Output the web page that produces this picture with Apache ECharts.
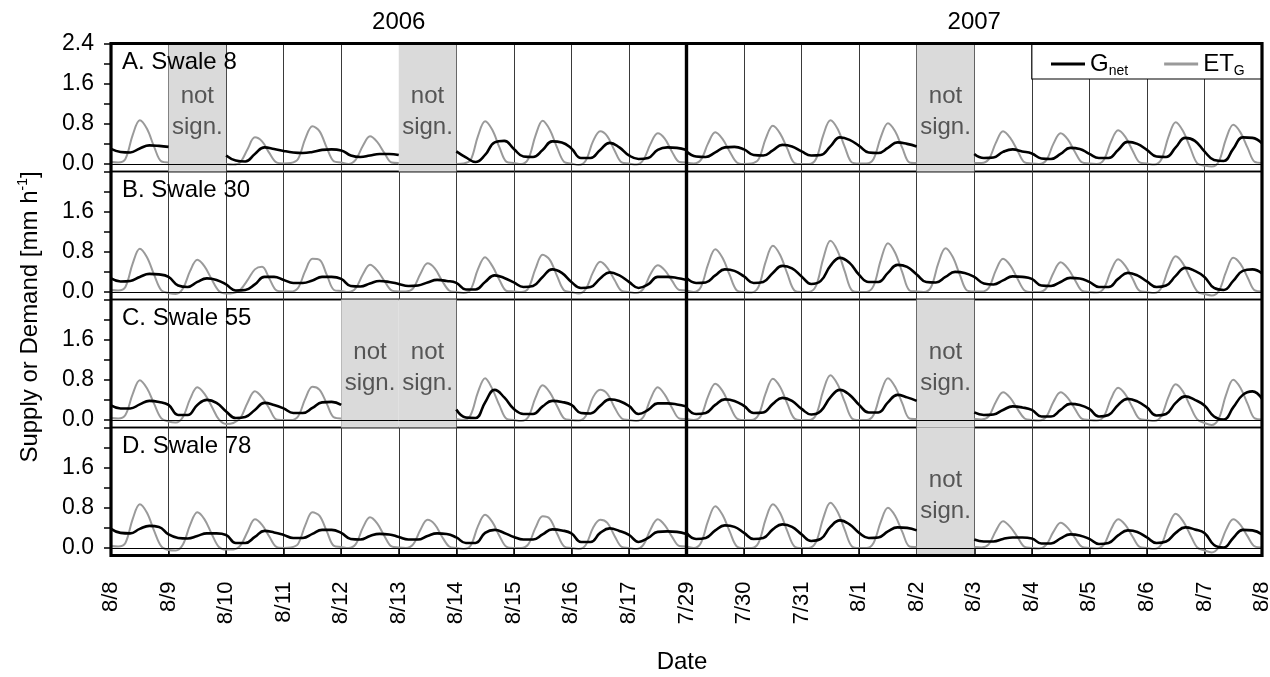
<!DOCTYPE html>
<html>
<head>
<meta charset="utf-8">
<script src="https://cdn.jsdelivr.net/npm/echarts@6/dist/echarts.min.js"></script>
<style>
  html, body { margin: 0; padding: 0; background: #ffffff; }
  #chart { width: 1270px; height: 677px; }
</style>
</head>
<body>
<div id="chart"></div>
<script>
// Hourly supply (G_net) and demand (ET_G) at four swales, summers 2006 and 2007.
// ET_G sampled every 3 h, G_net every 4 h; null marks days without a significant signal.
const _ = null;

const dayLabels2006 = ['8/8', '8/9', '8/10', '8/11', '8/12', '8/13', '8/14', '8/15', '8/16', '8/17', ''];
const dayLabels2007 = ['7/29', '7/30', '7/31', '8/1', '8/2', '8/3', '8/4', '8/5', '8/6', '8/7', '8/8'];
const yearLabels = ['2006', '2007'];
const panelLabels = ['A. Swale 8', 'B. Swale 30', 'C. Swale 55', 'D. Swale 78'];
const yTickValues = [0, 0.4, 0.8, 1.2, 1.6, 2.0, 2.4];

// day indices (0-based) flagged "not sign." per panel: [2006, 2007]
const gapsA = [[1, 5], [4]];
const gapsB = [[], []];
const gapsC = [[4, 5], [4]];
const gapsD = [[], [4]];

// ---- ET_G, mm/h, 0,3,6,...,21 h each day, plus final midnight ----
const etA06 = [
  0.04, 0.03, 0.10, 0.57, 0.87, 0.70, 0.34, 0.05,
  0.03, _, _, _, _, _, _, _,
  0.00, -0.01, 0.04, 0.30, 0.53, 0.45, 0.22, 0.03,
  0.01, 0.02, 0.10, 0.50, 0.75, 0.65, 0.32, 0.05,
  0.03, 0.00, 0.08, 0.36, 0.55, 0.44, 0.22, 0.03,
  0.02, _, _, _, _, _, _, _,
  0.00, 0.01, 0.08, 0.55, 0.85, 0.68, 0.33, 0.04,
  0.02, 0.00, 0.10, 0.56, 0.86, 0.68, 0.33, 0.04,
  0.01, -0.02, 0.07, 0.45, 0.65, 0.55, 0.27, 0.03,
  0.01, -0.01, 0.08, 0.40, 0.61, 0.50, 0.24, 0.04,
  0.03
];
const etA07 = [
  0.03, 0.01, 0.08, 0.41, 0.63, 0.50, 0.25, 0.03,
  0.00, 0.01, 0.09, 0.50, 0.76, 0.61, 0.31, 0.02,
  0.00, 0.00, 0.10, 0.57, 0.87, 0.70, 0.34, 0.03,
  0.01, 0.01, 0.10, 0.53, 0.81, 0.65, 0.32, 0.03,
  0.02, _, _, _, _, _, _, _,
  0.02, 0.02, 0.09, 0.42, 0.65, 0.52, 0.27, 0.03,
  0.01, 0.00, 0.07, 0.40, 0.61, 0.49, 0.24, 0.03,
  0.01, 0.00, 0.08, 0.44, 0.67, 0.54, 0.27, 0.03,
  0.01, -0.01, 0.09, 0.54, 0.83, 0.66, 0.33, 0.01,
  -0.03, -0.05, 0.05, 0.50, 0.78, 0.63, 0.32, 0.04,
  0.02
];
const etB06 = [
  0.04, 0.03, 0.10, 0.56, 0.86, 0.69, 0.34, 0.03,
  -0.02, -0.04, 0.07, 0.42, 0.64, 0.51, 0.25, 0.02,
  -0.03, -0.02, 0.05, 0.24, 0.45, 0.50, 0.27, 0.03,
  0.01, 0.01, 0.08, 0.42, 0.66, 0.64, 0.34, 0.04,
  0.02, 0.00, 0.07, 0.35, 0.54, 0.43, 0.22, 0.03,
  0.01, 0.01, 0.07, 0.36, 0.57, 0.47, 0.23, 0.03,
  0.00, -0.02, 0.05, 0.45, 0.69, 0.52, 0.24, 0.02,
  0.01, 0.00, 0.07, 0.46, 0.74, 0.64, 0.32, 0.03,
  0.00, -0.03, 0.06, 0.39, 0.60, 0.48, 0.24, 0.02,
  0.00, -0.02, 0.06, 0.36, 0.53, 0.43, 0.22, 0.04,
  0.03
];
const etB07 = [
  0.03, 0.00, 0.10, 0.55, 0.85, 0.68, 0.34, 0.03,
  0.00, -0.01, 0.10, 0.60, 0.92, 0.74, 0.37, 0.03,
  0.00, 0.00, 0.12, 0.66, 1.02, 0.82, 0.41, 0.03,
  0.00, 0.00, 0.12, 0.63, 0.97, 0.78, 0.39, 0.03,
  0.01, 0.00, 0.10, 0.57, 0.87, 0.70, 0.34, 0.03,
  0.01, 0.01, 0.08, 0.43, 0.66, 0.53, 0.27, 0.03,
  0.00, 0.00, 0.07, 0.38, 0.59, 0.47, 0.24, 0.02,
  0.00, -0.01, 0.07, 0.42, 0.65, 0.52, 0.27, 0.02,
  0.00, -0.02, 0.08, 0.46, 0.71, 0.57, 0.28, 0.01,
  -0.04, -0.07, 0.02, 0.40, 0.68, 0.56, 0.29, 0.03,
  0.01
];
const etC06 = [
  0.04, 0.03, 0.10, 0.51, 0.79, 0.63, 0.32, 0.03,
  -0.03, -0.05, 0.06, 0.42, 0.65, 0.52, 0.27, 0.01,
  -0.08, -0.06, 0.04, 0.35, 0.57, 0.45, 0.23, 0.01,
  0.00, 0.00, 0.07, 0.42, 0.66, 0.60, 0.32, 0.05,
  0.03, _, _, _, _, _, _, _,
  _, _, _, _, _, _, _, _,
  0.02, 0.00, 0.10, 0.55, 0.83, 0.62, 0.29, 0.02,
  0.00, -0.02, 0.06, 0.44, 0.69, 0.55, 0.28, 0.03,
  0.00, -0.01, 0.08, 0.45, 0.60, 0.52, 0.25, 0.03,
  0.00, -0.02, 0.06, 0.42, 0.65, 0.50, 0.24, 0.03,
  0.02
];
const etC07 = [
  0.02, 0.00, 0.08, 0.47, 0.72, 0.58, 0.29, 0.03,
  0.00, 0.00, 0.10, 0.53, 0.82, 0.66, 0.33, 0.03,
  0.00, 0.00, 0.10, 0.58, 0.89, 0.71, 0.36, 0.03,
  0.00, 0.00, 0.10, 0.54, 0.83, 0.66, 0.33, 0.03,
  0.02, _, _, _, _, _, _, _,
  0.02, 0.01, 0.07, 0.36, 0.55, 0.44, 0.22, 0.03,
  0.00, -0.01, 0.06, 0.36, 0.55, 0.44, 0.22, 0.02,
  0.00, -0.01, 0.07, 0.42, 0.64, 0.51, 0.25, 0.02,
  0.00, -0.02, 0.08, 0.46, 0.71, 0.57, 0.28, 0.01,
  -0.06, -0.10, 0.03, 0.50, 0.80, 0.64, 0.32, 0.03,
  0.01
];
const etD06 = [
  0.04, 0.03, 0.10, 0.57, 0.87, 0.70, 0.34, 0.03,
  -0.04, -0.05, 0.07, 0.46, 0.71, 0.57, 0.28, 0.02,
  -0.03, -0.03, 0.05, 0.33, 0.57, 0.46, 0.23, 0.02,
  0.00, 0.01, 0.08, 0.45, 0.71, 0.64, 0.33, 0.04,
  0.02, 0.00, 0.07, 0.40, 0.61, 0.49, 0.24, 0.03,
  0.01, 0.00, 0.07, 0.36, 0.56, 0.47, 0.23, 0.03,
  0.00, -0.02, 0.05, 0.43, 0.66, 0.52, 0.24, 0.02,
  0.00, 0.00, 0.07, 0.40, 0.63, 0.58, 0.29, 0.03,
  0.00, -0.02, 0.06, 0.40, 0.56, 0.50, 0.24, 0.02,
  0.00, -0.02, 0.06, 0.37, 0.57, 0.45, 0.22, 0.04,
  0.03
];
const etD07 = [
  0.03, 0.00, 0.10, 0.54, 0.83, 0.66, 0.33, 0.03,
  0.00, 0.00, 0.10, 0.57, 0.87, 0.70, 0.34, 0.03,
  0.00, 0.00, 0.12, 0.59, 0.90, 0.72, 0.36, 0.03,
  0.00, 0.00, 0.10, 0.52, 0.80, 0.64, 0.32, 0.03,
  0.02, _, _, _, _, _, _, _,
  0.02, 0.01, 0.07, 0.34, 0.53, 0.42, 0.22, 0.02,
  0.00, -0.01, 0.06, 0.32, 0.50, 0.40, 0.20, 0.02,
  0.00, -0.01, 0.06, 0.37, 0.57, 0.46, 0.23, 0.02,
  0.00, -0.02, 0.07, 0.44, 0.68, 0.54, 0.27, 0.01,
  -0.05, -0.09, 0.02, 0.36, 0.57, 0.46, 0.23, 0.03,
  0.01
];

// ---- G_net, mm/h, 0,4,...,20 h each day, plus final midnight ----
const gA06 = [
  0.30, 0.24, 0.23, 0.31, 0.37, 0.36,
  0.34, _, _, _, _, _,
  0.17, 0.07, 0.05, 0.20, 0.33, 0.30,
  0.26, 0.23, 0.22, 0.24, 0.28, 0.29,
  0.27, 0.17, 0.14, 0.17, 0.20, 0.20,
  0.18, _, _, _, _, _,
  0.25, 0.13, 0.04, 0.18, 0.43, 0.46,
  0.30, 0.15, 0.14, 0.28, 0.45, 0.43,
  0.31, 0.12, 0.12, 0.28, 0.42, 0.33,
  0.17, 0.10, 0.12, 0.28, 0.33, 0.32,
  0.28
];
const gA07 = [
  0.25, 0.15, 0.14, 0.23, 0.33, 0.34,
  0.29, 0.18, 0.17, 0.27, 0.38, 0.35,
  0.25, 0.17, 0.18, 0.35, 0.53, 0.48,
  0.36, 0.23, 0.22, 0.32, 0.43, 0.40,
  0.35, _, _, _, _, _,
  0.20, 0.12, 0.13, 0.24, 0.29, 0.25,
  0.21, 0.11, 0.10, 0.20, 0.32, 0.30,
  0.20, 0.12, 0.12, 0.28, 0.44, 0.40,
  0.28, 0.15, 0.14, 0.33, 0.52, 0.46,
  0.25, 0.08, 0.06, 0.30, 0.53, 0.52,
  0.41
];
const gB06 = [
  0.27, 0.21, 0.22, 0.30, 0.36, 0.35,
  0.30, 0.13, 0.10, 0.20, 0.27, 0.24,
  0.15, 0.03, 0.04, 0.15, 0.30, 0.30,
  0.24, 0.18, 0.18, 0.23, 0.30, 0.30,
  0.26, 0.12, 0.11, 0.17, 0.22, 0.20,
  0.16, 0.12, 0.13, 0.19, 0.24, 0.22,
  0.18, 0.05, 0.05, 0.20, 0.33, 0.28,
  0.19, 0.10, 0.12, 0.30, 0.45, 0.38,
  0.20, 0.08, 0.10, 0.27, 0.39, 0.33,
  0.20, 0.08, 0.15, 0.30, 0.30, 0.28,
  0.24
];
const gB07 = [
  0.28, 0.18, 0.19, 0.33, 0.45, 0.42,
  0.31, 0.18, 0.20, 0.38, 0.52, 0.47,
  0.31, 0.16, 0.22, 0.52, 0.68, 0.58,
  0.34, 0.20, 0.20, 0.38, 0.54, 0.50,
  0.35, 0.20, 0.19, 0.30, 0.40, 0.38,
  0.30, 0.17, 0.15, 0.23, 0.31, 0.30,
  0.26, 0.13, 0.12, 0.20, 0.28, 0.27,
  0.20, 0.10, 0.10, 0.26, 0.38, 0.33,
  0.21, 0.10, 0.13, 0.32, 0.48, 0.42,
  0.30, 0.08, 0.04, 0.22, 0.42, 0.45,
  0.37
];
const gC06 = [
  0.29, 0.23, 0.23, 0.31, 0.38, 0.36,
  0.30, 0.10, 0.10, 0.30, 0.40, 0.34,
  0.17, 0.04, 0.06, 0.20, 0.34, 0.30,
  0.23, 0.14, 0.14, 0.24, 0.35, 0.36,
  0.30, _, _, _, _, _,
  _, _, _, _, _, _,
  0.21, 0.05, 0.04, 0.35, 0.60, 0.45,
  0.22, 0.12, 0.12, 0.27, 0.38, 0.36,
  0.30, 0.14, 0.13, 0.28, 0.41, 0.38,
  0.28, 0.12, 0.20, 0.33, 0.33, 0.31,
  0.27
];
const gC07 = [
  0.25, 0.12, 0.14, 0.30, 0.41, 0.38,
  0.28, 0.14, 0.15, 0.32, 0.44, 0.38,
  0.22, 0.11, 0.18, 0.45, 0.60, 0.50,
  0.30, 0.15, 0.15, 0.35, 0.50, 0.45,
  0.38, _, _, _, _, _,
  0.15, 0.10, 0.11, 0.20, 0.27, 0.25,
  0.20, 0.07, 0.07, 0.20, 0.32, 0.30,
  0.22, 0.07, 0.10, 0.30, 0.42, 0.37,
  0.25, 0.09, 0.12, 0.34, 0.47, 0.40,
  0.29, 0.07, 0.01, 0.25, 0.50, 0.57,
  0.42
];
const gD06 = [
  0.38, 0.30, 0.29, 0.38, 0.44, 0.42,
  0.27, 0.20, 0.19, 0.24, 0.29, 0.29,
  0.26, 0.10, 0.10, 0.22, 0.34, 0.31,
  0.26, 0.20, 0.20, 0.28, 0.36, 0.36,
  0.30, 0.18, 0.17, 0.24, 0.28, 0.27,
  0.22, 0.17, 0.17, 0.24, 0.29, 0.28,
  0.21, 0.10, 0.10, 0.30, 0.36, 0.30,
  0.22, 0.17, 0.17, 0.27, 0.37, 0.35,
  0.29, 0.12, 0.12, 0.30, 0.39, 0.34,
  0.26, 0.12, 0.20, 0.32, 0.33, 0.32,
  0.28
];
const gD07 = [
  0.30, 0.18, 0.20, 0.35, 0.45, 0.42,
  0.30, 0.18, 0.20, 0.37, 0.47, 0.42,
  0.27, 0.14, 0.18, 0.42, 0.55, 0.47,
  0.30, 0.20, 0.21, 0.33, 0.41, 0.40,
  0.35, _, _, _, _, _,
  0.17, 0.13, 0.13, 0.18, 0.21, 0.21,
  0.19, 0.09, 0.09, 0.19, 0.27, 0.25,
  0.18, 0.08, 0.10, 0.25, 0.35, 0.32,
  0.21, 0.10, 0.13, 0.30, 0.41, 0.37,
  0.30, 0.06, 0.01, 0.20, 0.36, 0.35,
  0.27
];

const panels = [
  { label: panelLabels[0], et: [etA06, etA07], g: [gA06, gA07], gaps: gapsA },
  { label: panelLabels[1], et: [etB06, etB07], g: [gB06, gB07], gaps: gapsB },
  { label: panelLabels[2], et: [etC06, etC07], g: [gC06, gC07], gaps: gapsC },
  { label: panelLabels[3], et: [etD06, etD07], g: [gD06, gD07], gaps: gapsD }
];

// ---- layout ----
const FONT = "'Liberation Sans', Arial, sans-serif";
const LEFT = 111, COL_W = 575.5, TOP = 43.5, PANEL_H = 128;
const Y_MIN = -0.15, Y_MAX = 2.4;
const ET_COLOR = '#9a9a9a', G_COLOR = '#000000';

// day fraction for sample i at a given number of samples per day
const toXY = (arr, perDay) => arr.map((v, i) => [i / perDay, v]);

const grids = [], xAxes = [], yAxes = [], series = [];
panels.forEach((p, r) => {
  [0, 1].forEach(c => {
    const idx = grids.length;
    const bottomRow = r === panels.length - 1;
    grids.push({
      left: LEFT + c * COL_W, top: TOP + r * PANEL_H, width: COL_W, height: PANEL_H,
      containLabel: false, outerBoundsMode: 'none',
      show: true, borderColor: '#000', borderWidth: 1.6, backgroundColor: 'transparent'
    });
    const labels = c === 0 ? dayLabels2006 : dayLabels2007;
    xAxes.push({
      gridIndex: idx, type: 'value', min: 0, max: 10, interval: 1,
      axisLine: { show: false },
      axisTick: { show: bottomRow, inside: false, length: 8, lineStyle: { color: '#000', width: 1.5 } },
      axisLabel: {
        show: bottomRow, rotate: 90, margin: 26, fontSize: 22, color: '#000', fontFamily: FONT,
        formatter: v => labels[Math.round(v)] || ''
      },
      splitLine: { show: true, lineStyle: { color: '#3a3a3a', width: 1 } }
    });
    yAxes.push({
      gridIndex: idx, type: 'value', min: Y_MIN, max: Y_MAX,
      axisLine: { show: false },
      splitLine: { show: false },
      axisTick: {
        show: c === 0, inside: false, length: 7, customValues: yTickValues,
        lineStyle: { color: '#000', width: 1.5 }
      },
      axisLabel: {
        show: c === 0, margin: 17, fontSize: 23, color: '#000', fontFamily: FONT,
        customValues: r === 0 ? [0, 0.8, 1.6, 2.4] : [0, 0.8, 1.6],
        formatter: v => v.toFixed(1)
      }
    });
    series.push({
      name: 'ETG', type: 'line', xAxisIndex: idx, yAxisIndex: idx,
      data: toXY(p.et[c], 8), smooth: 0.35, showSymbol: false, connectNulls: false,
      lineStyle: { color: ET_COLOR, width: 2 }, itemStyle: { color: ET_COLOR },
      z: 2, silent: true,
      markArea: {
        silent: true,
        itemStyle: { color: '#dadada', opacity: 1 },
        label: {
          show: true, position: 'inside', formatter: 'not\nsign.', color: '#555555',
          fontSize: 24, lineHeight: 31, fontFamily: FONT, offset: [0, 4]
        },
        data: p.gaps[c].map(d => [{ xAxis: d }, { xAxis: d + 1 }])
      }
    });
    series.push({
      name: 'Gnet', type: 'line', xAxisIndex: idx, yAxisIndex: idx,
      data: toXY(p.g[c], 6), smooth: 0.45, showSymbol: false, connectNulls: false,
      lineStyle: { color: G_COLOR, width: 2.6 }, itemStyle: { color: G_COLOR },
      z: 3, silent: true,
      markLine: {
        silent: true, symbol: 'none', label: { show: false },
        lineStyle: { color: '#000', width: 1, type: 'solid' },
        data: [{ yAxis: 0 }]
      }
    });
  });
});

const graphics = [];
// white box behind the legend, top-right of panel A (2007)
graphics.push({
  type: 'rect', z: 5,
  shape: { x: LEFT + COL_W + 6 * COL_W / 10, y: TOP, width: 4 * COL_W / 10, height: 35.5 },
  style: { fill: '#ffffff', stroke: '#000', lineWidth: 1.2 }
});
// heavy frames around each year column
[0, 1].forEach(c => {
  graphics.push({
    type: 'rect', z: 20,
    shape: { x: LEFT + c * COL_W, y: TOP, width: COL_W, height: 4 * PANEL_H },
    style: { fill: 'none', stroke: '#000', lineWidth: 3.2 }
  });
  graphics.push({
    type: 'text', z: 20, x: LEFT + c * COL_W + COL_W / 2, y: 22,
    style: { text: yearLabels[c], fontSize: 24, fontFamily: FONT, fill: '#000', align: 'center', verticalAlign: 'middle' }
  });
});
panels.forEach((p, r) => {
  graphics.push({
    type: 'text', z: 20, x: LEFT + 11, y: TOP + r * PANEL_H + 19,
    style: { text: p.label, fontSize: 24, fontFamily: FONT, fill: '#000', align: 'left', verticalAlign: 'middle' }
  });
});
graphics.push({
  type: 'text', z: 20, x: 30, y: 317, rotation: Math.PI / 2,
  style: {
    text: '{a|Supply or Demand [mm h}{b|-1}{a|]}',
    align: 'center', verticalAlign: 'middle',
    rich: {
      a: { fontSize: 24, fontFamily: FONT, fill: '#000', lineHeight: 28 },
      b: { fontSize: 14, fontFamily: FONT, fill: '#000', verticalAlign: 'top', lineHeight: 28 }
    }
  }
});
graphics.push({
  type: 'text', z: 20, x: 682, y: 662,
  style: { text: 'Date', fontSize: 24, fontFamily: FONT, fill: '#000', align: 'center', verticalAlign: 'middle' }
});

const chart = echarts.init(document.getElementById('chart'), null, { renderer: 'canvas' });
chart.setOption({
  animation: false,
  backgroundColor: '#ffffff',
  grid: grids,
  xAxis: xAxes,
  yAxis: yAxes,
  series: series,
  graphic: graphics,
  legend: {
    z: 30, left: 1046, top: 47, itemWidth: 34, itemHeight: 3, itemGap: 36, icon: 'rect',
    selectedMode: false,
    data: [
      { name: 'Gnet', itemStyle: { color: G_COLOR } },
      { name: 'ETG', itemStyle: { color: ET_COLOR } }
    ],
    formatter: n => (n === 'Gnet' ? '{m|G}{s|net}' : '{m|ET}{s|G}'),
    textStyle: {
      rich: {
        m: { fontSize: 24, fontFamily: FONT, color: '#000', lineHeight: 28 },
        s: { fontSize: 14, fontFamily: FONT, color: '#000', verticalAlign: 'bottom', lineHeight: 14 }
      }
    }
  }
});
</script>
</body>
</html>
